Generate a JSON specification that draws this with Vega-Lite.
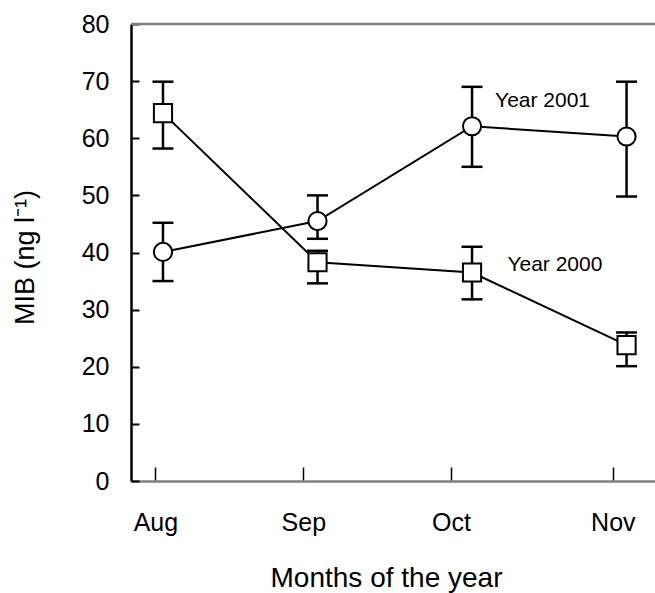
{
  "$schema": "https://vega.github.io/schema/vega-lite/v6.json",
  "autosize": {"type": "none"},
  "width": 524,
  "height": 457,
  "padding": {"left": 131, "top": 24, "right": 0, "bottom": 112},
  "background": "white",
  "config": {
    "view": {"stroke": null},
    "font": "Liberation Sans",
    "axis": {"grid": false, "labelFont": "Liberation Sans", "titleFont": "Liberation Sans", "labelColor": "black", "titleColor": "black", "titleFontWeight": "normal"}
  },
  "datasets": {
    "mib": [
      {"year": "2000", "m": 1, "mean": 64.4, "lo": 58.2, "hi": 69.9},
      {"year": "2000", "m": 2, "mean": 38.3, "lo": 34.6, "hi": 40.3},
      {"year": "2000", "m": 3, "mean": 36.5, "lo": 31.8, "hi": 41.0},
      {"year": "2000", "m": 4, "mean": 23.8, "lo": 20.1, "hi": 26.0},
      {"year": "2001", "m": 1, "mean": 40.1, "lo": 35.0, "hi": 45.2},
      {"year": "2001", "m": 2, "mean": 45.5, "lo": 42.4, "hi": 50.0},
      {"year": "2001", "m": 3, "mean": 62.1, "lo": 55.0, "hi": 69.0},
      {"year": "2001", "m": 4, "mean": 60.3, "lo": 49.8, "hi": 69.9}
    ],
    "labels": [
      {"label": "Year 2001", "m": 3.149, "v": 65.5},
      {"label": "Year 2000", "m": 3.229, "v": 36.7}
    ],
    "top": [{"v": 80}]
  },
  "layer": [
    {
      "data": {"name": "top"},
      "mark": {"type": "rule", "color": "#808080", "strokeWidth": 2.5},
      "encoding": {"y": {"field": "v", "type": "quantitative"}}
    },
    {
      "data": {"name": "mib"},
      "mark": {"type": "line", "color": "black", "strokeWidth": 2},
      "encoding": {
        "x": {
          "field": "m", "type": "quantitative",
          "scale": {"domain": [0.793, 4.184], "nice": false, "zero": false},
          "axis": {
            "values": [0.951, 1.908, 2.864, 3.911],
            "labelExpr": "datum.value < 1.5 ? 'Aug' : datum.value < 2.5 ? 'Sep' : datum.value < 3.5 ? 'Oct' : 'Nov'",
            "title": "Months of the year",
            "titleFontSize": 28,
            "titleBaseline": "alphabetic",
            "titleAlign": "center",
            "titleX": 255,
            "titleY": 105,
            "labelFontSize": 25,
            "labelPadding": 43,
            "labelFlush": false,
            "labelOverlap": false,
            "domainColor": "#808080",
            "domainWidth": 2.5,
            "tickColor": "black",
            "tickWidth": 1.5,
            "tickSize": -14
          }
        },
        "y": {
          "field": "mean", "type": "quantitative",
          "scale": {"domain": [0, 80], "nice": false},
          "axis": {
            "values": [0, 10, 20, 30, 40, 50, 60, 70, 80],
            "title": "MIB (ng l⁻¹)",
            "titleFontSize": 27,
            "titleBaseline": "alphabetic",
            "titleX": -98,
            "titleY": 233,
            "titleAngle": -90,
            "titleAlign": "center",
            "labelFontSize": 25,
            "labelPadding": 30,
            "domainColor": "black",
            "domainWidth": 2.5,
            "tickColor": "black",
            "tickWidth": 2,
            "tickSize": -8
          }
        },
        "detail": {"field": "year", "type": "nominal"}
      }
    },
    {
      "data": {"name": "mib"},
      "mark": {"type": "rule", "color": "black", "strokeWidth": 2.5},
      "encoding": {
        "x": {"field": "m", "type": "quantitative"},
        "y": {"field": "lo", "type": "quantitative"},
        "y2": {"field": "hi"}
      }
    },
    {
      "data": {"name": "mib"},
      "mark": {"type": "tick", "orient": "horizontal", "color": "black", "size": 21, "thickness": 2.5, "opacity": 1},
      "encoding": {
        "x": {"field": "m", "type": "quantitative"},
        "y": {"field": "lo", "type": "quantitative"}
      }
    },
    {
      "data": {"name": "mib"},
      "mark": {"type": "tick", "orient": "horizontal", "color": "black", "size": 21, "thickness": 2.5, "opacity": 1},
      "encoding": {
        "x": {"field": "m", "type": "quantitative"},
        "y": {"field": "hi", "type": "quantitative"}
      }
    },
    {
      "data": {"name": "mib"},
      "mark": {"type": "point", "filled": true, "fill": "white", "stroke": "black", "strokeWidth": 2, "size": 330, "opacity": 1},
      "encoding": {
        "x": {"field": "m", "type": "quantitative"},
        "y": {"field": "mean", "type": "quantitative"},
        "shape": {"field": "year", "type": "nominal", "scale": {"domain": ["2000", "2001"], "range": ["square", "circle"]}, "legend": null}
      }
    },
    {
      "data": {"name": "labels"},
      "mark": {"type": "text", "align": "left", "baseline": "alphabetic", "fontSize": 21, "font": "Liberation Sans", "color": "black"},
      "encoding": {
        "x": {"field": "m", "type": "quantitative"},
        "y": {"field": "v", "type": "quantitative"},
        "text": {"field": "label"}
      }
    }
  ]
}
